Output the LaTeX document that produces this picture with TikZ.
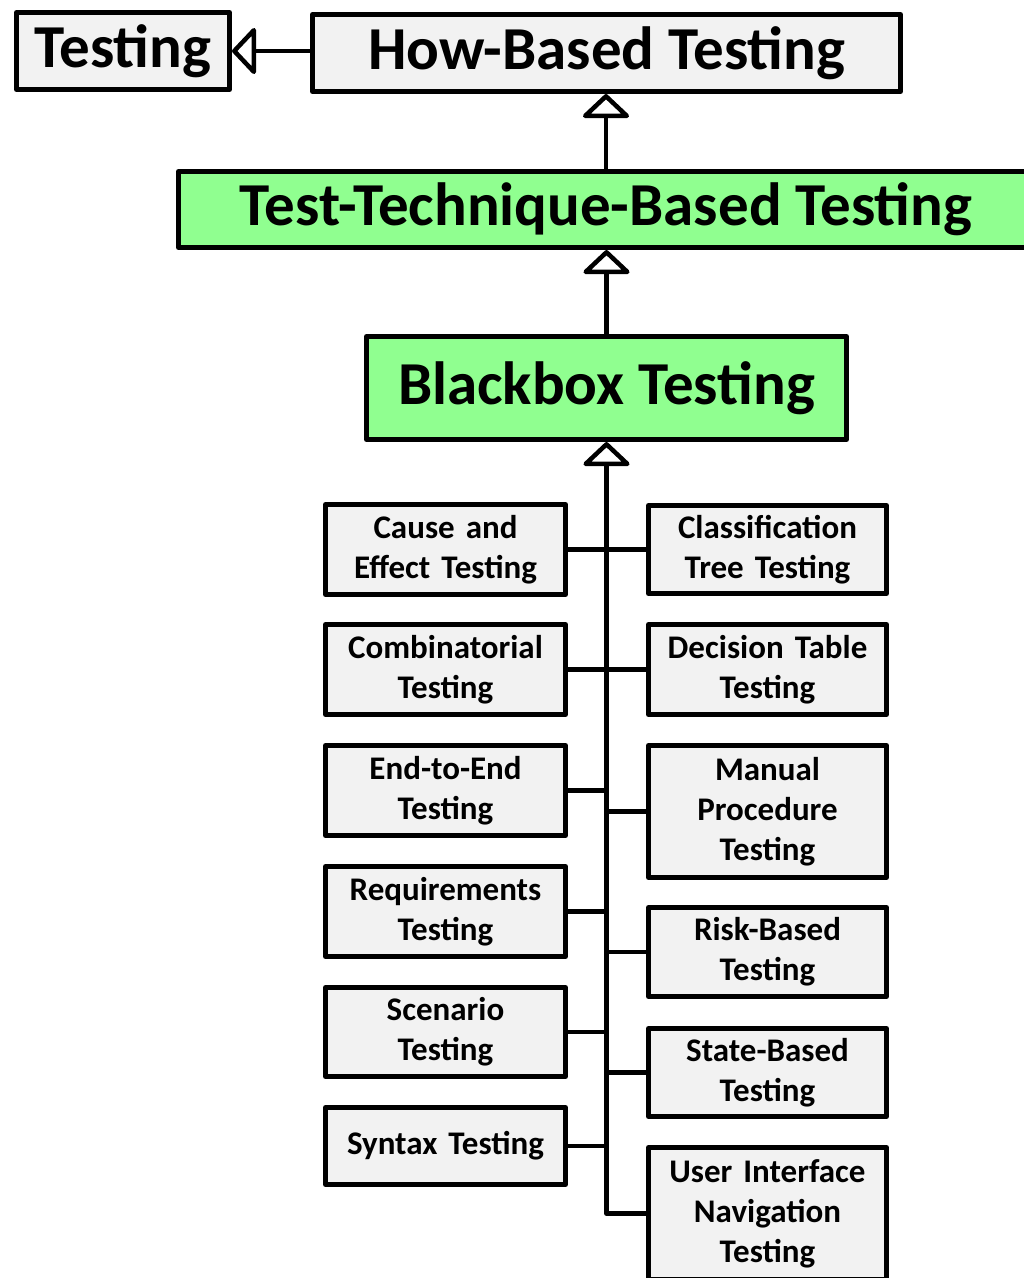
\documentclass[tikz,border=0pt]{standalone}
\usepackage{fontspec}
\setmainfont{Carlito}
\usetikzlibrary{arrows.meta}
\definecolor{boxgray}{RGB}{242,242,242}
\definecolor{boxgreen}{RGB}{144,255,144}
\tikzset{
  basebox/.style={draw=black, line width=5pt, line join=round, inner sep=0pt, align=center, anchor=center},
  bigbox/.style={basebox, font=\fontsize{61}{72}\selectfont\bfseries},
  smallbox/.style={basebox, fill=boxgray, font=\fontsize{33}{40}\selectfont\bfseries, text width=230pt},
  conn/.style={line width=4.5pt, line join=round},
  gen/.style={conn, {Triangle[open, fill=white, length=25pt, width=52pt, line width=4.5pt, round]}-},
}
\begin{document}
\begin{tikzpicture}[x=1pt, y=-1pt]
\useasboundingbox (0,0) rectangle (1024,1278);
% top boxes
\node[bigbox, fill=boxgray, minimum width=213pt, minimum height=77pt] (testing) at (123,51) {Testing};
\node[bigbox, fill=boxgray, minimum width=588pt, minimum height=77pt] (how) at (606.5,53) {How-Based Testing};
\node[bigbox, fill=boxgreen, minimum width=855pt, minimum height=76pt] (ttb) at (606,209.5) {Test-Technique-Based Testing};
\node[bigbox, fill=boxgreen, minimum width=480pt, minimum height=103pt] (bb) at (606.5,388) {Blackbox Testing};
% left column
\node[smallbox, minimum width=240pt, minimum height=90pt] (ce) at (445.5,549.5) {Cause and\\Effect Testing};
\node[smallbox, minimum width=240pt, minimum height=90pt] (comb) at (445.5,669.5) {Combinatorial\\Testing};
\node[smallbox, minimum width=240pt, minimum height=90pt] (e2e) at (445.5,790.5) {End-to-End\\Testing};
\node[smallbox, minimum width=240pt, minimum height=90pt] (req) at (445.5,911.5) {Requirements\\Testing};
\node[smallbox, minimum width=240pt, minimum height=89pt] (scen) at (445.5,1032) {Scenario\\Testing};
\node[smallbox, minimum width=240pt, minimum height=77pt] (syn) at (445.5,1146) {Syntax Testing};
% right column
\node[smallbox, minimum width=238pt, minimum height=88pt] (ct) at (767.5,549.5) {Classification\\Tree Testing};
\node[smallbox, minimum width=238pt, minimum height=90pt] (dt) at (767.5,669.5) {Decision Table\\Testing};
\node[smallbox, minimum width=238pt, minimum height=132pt] (mp) at (767.5,811.5) {Manual\\Procedure\\Testing};
\node[smallbox, minimum width=238pt, minimum height=89pt] (rb) at (767.5,952) {Risk-Based\\Testing};
\node[smallbox, minimum width=238pt, minimum height=88pt] (sb) at (767.5,1072.5) {State-Based\\Testing};
\node[smallbox, minimum width=238pt, minimum height=132pt] (ui) at (767.5,1213.5) {User Interface\\Navigation\\Testing};
% connectors
\draw[gen] (testing.east) -- (testing.east -| how.west);
\draw[gen] (how.south -| ttb.north) -- (ttb.north);
\draw[gen] (ttb.south -| bb.north) -- (bb.north);
\coordinate (trunkend) at (bb.south |- ui.west);
\draw[gen] (bb.south) -- (trunkend) -- (ui.west);
\foreach \n in {ce,comb,e2e,req,scen,syn} {
  \draw[conn] (\n.east) -- (\n.east -| bb.south);
}
\foreach \n in {ct,dt,mp,rb,sb} {
  \draw[conn] (\n.west) -- (\n.west -| bb.south);
}
\end{tikzpicture}
\end{document}
